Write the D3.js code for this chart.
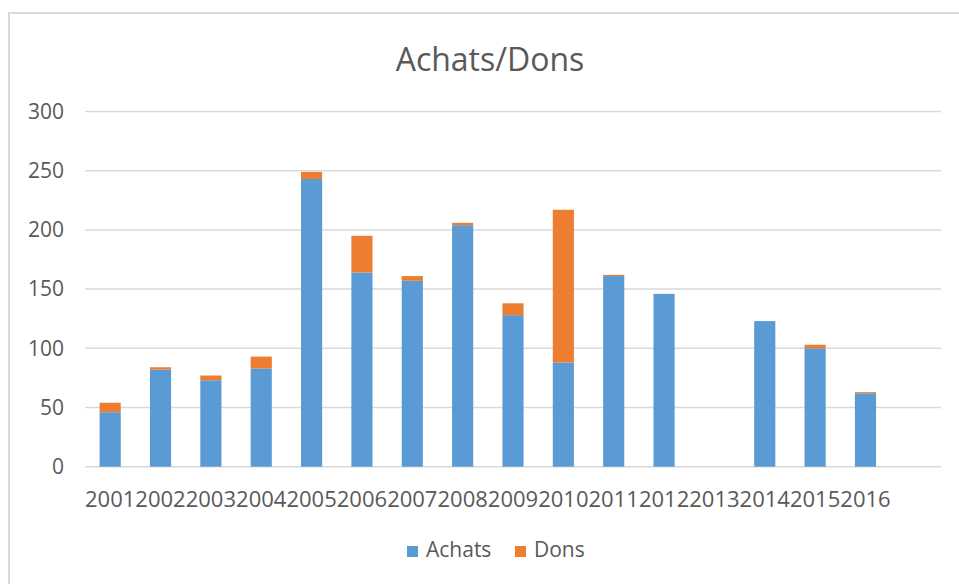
<!DOCTYPE html>
<html>
<head>
<meta charset="utf-8">
<script src="https://cdn.jsdelivr.net/npm/d3@7"></script>
<style>
  body { margin: 0; background: #fff; }
  text { font-family: "Open Sans", sans-serif; fill: #595959; }
</style>
</head>
<body>
<div id="chart"></div>
<script>
const years = ['2001','2002','2003','2004','2005','2006','2007','2008','2009','2010','2011','2012','2013','2014','2015','2016'];
const achats = [46, 82, 73, 83, 243, 164, 157, 204, 128, 88, 161, 146, 0, 123, 100, 62];
const dons = [8, 2, 4, 10, 6, 31, 4, 2, 10, 129, 1, 0, 0, 0, 3, 1];
const yTicks = [0, 50, 100, 150, 200, 250, 300];
const seriesNames = ['Achats', 'Dons'];
const colors = ['#5B9BD5', '#ED7D31'];

const width = 959;
const height = 584;
const margin = { top: 111.5, bottom: 117.3, left: 85, right: 18 };

const svg = d3.select('#chart')
    .append('svg')
    .attr('width', width)
    .attr('height', height);

// chart border (only left/top visible in the frame)
svg.append('rect')
    .attr('x', 9).attr('y', 13)
    .attr('width', width + 20).attr('height', height + 20)
    .attr('fill', 'none')
    .attr('stroke', '#d9d9d9')
    .attr('stroke-width', 2);

const plotRight = width - margin.right;
// one spare slot after 2016, as in the source chart
const slot = (plotRight - margin.left) / (years.length + 1);

const x = d3.scaleBand()
    .domain(years)
    .range([margin.left, margin.left + slot * years.length])
    .paddingInner(0.58)
    .paddingOuter(0.29);

const y = d3.scaleLinear()
    .domain([0, 300])
    .range([height - margin.bottom, margin.top]);

// gridlines
svg.append('g')
    .selectAll('line')
    .data(yTicks)
    .join('line')
        .attr('x1', margin.left)
        .attr('x2', plotRight)
        .attr('y1', d => y(d))
        .attr('y2', d => y(d))
        .attr('stroke', '#d9d9d9')
        .attr('stroke-width', 1.5);

const table = years.map((yr, i) => ({ year: yr, Achats: achats[i], Dons: dons[i] }));
const stacked = d3.stack().keys(seriesNames)(table);

svg.append('g')
    .selectAll('g')
    .data(stacked)
    .join('g')
        .attr('fill', (d, i) => colors[i])
    .selectAll('rect')
    .data(d => d)
    .join('rect')
        .attr('x', d => x(d.data.year))
        .attr('y', d => y(d[1]))
        .attr('height', d => y(d[0]) - y(d[1]))
        .attr('width', x.bandwidth());

// y labels
svg.append('g')
    .selectAll('text')
    .data(yTicks)
    .join('text')
        .attr('x', 64)
        .attr('y', d => y(d))
        .attr('dy', '0.35em')
        .attr('text-anchor', 'end')
        .attr('font-size', 21)
        .text(d => d);

// x labels
svg.append('g')
    .selectAll('text')
    .data(years)
    .join('text')
        .attr('x', d => x(d) + x.bandwidth() / 2)
        .attr('y', 507)
        .attr('text-anchor', 'middle')
        .attr('font-size', 22)
        .text(d => d);

// title
svg.append('text')
    .attr('x', 490)
    .attr('y', 71)
    .attr('text-anchor', 'middle')
    .attr('font-size', 32)
    .text('Achats/Dons');

// legend
const legendX = [407, 515];
const legend = svg.append('g')
    .selectAll('g')
    .data(seriesNames)
    .join('g')
        .attr('transform', (d, i) => `translate(${legendX[i]}, 546)`);
legend.append('rect')
    .attr('width', 11).attr('height', 11)
    .attr('fill', (d, i) => colors[i]);
legend.append('text')
    .attr('x', 19)
    .attr('y', 11)
    .attr('font-size', 21)
    .text(d => d);
</script>
</body>
</html>
